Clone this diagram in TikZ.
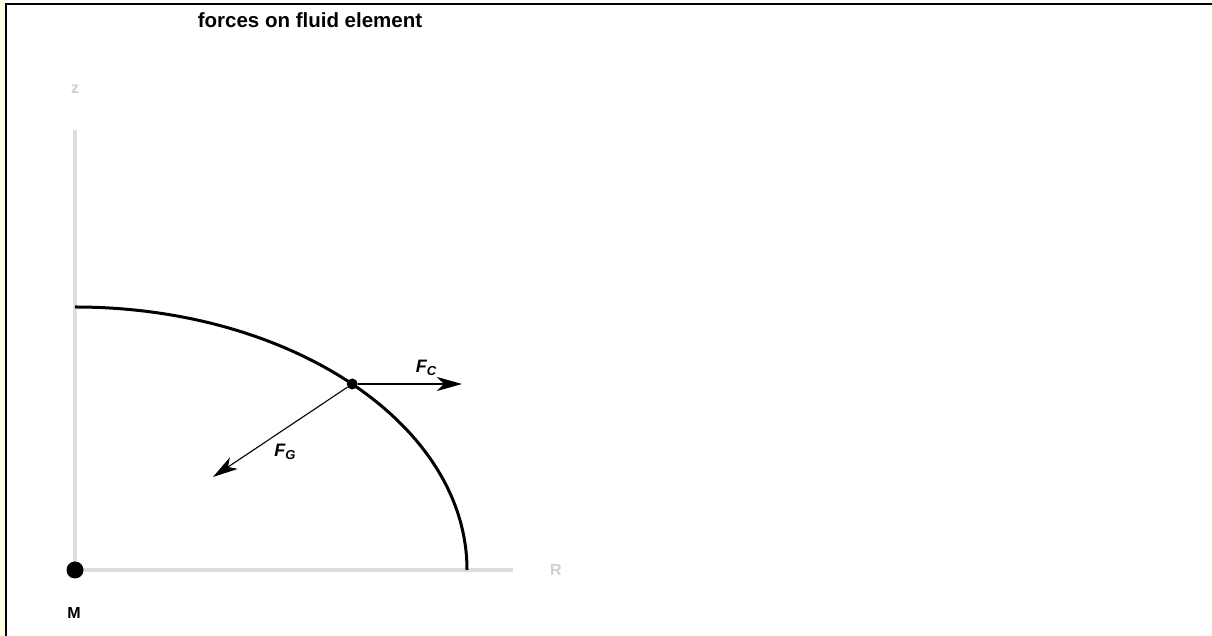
\documentclass[tikz,border=0pt]{standalone}
\usepackage{fontspec}
\setmainfont{Liberation Sans}
\usetikzlibrary{arrows.meta}
\definecolor{axisgray}{HTML}{DCDCDC}
\definecolor{labelgray}{HTML}{D0D0D0}
\definecolor{stripyellow}{HTML}{FFFFE6}
\begin{document}
\begin{tikzpicture}[x=1pt,y=1pt,
  axisline/.style={draw=axisgray,line width=3.2pt},
  curveline/.style={draw=black,line width=3pt},
  forcearrow/.style={draw=black,line width=1.1pt,-{Stealth[length=25pt,width=14pt,inset=7pt]}},
  dotnode/.style={circle,fill=black,inner sep=0pt},
  graylabel/.style={text=labelgray,font=\fontsize{16}{16}\selectfont\bfseries},
  blacklabel/.style={text=black,font=\fontsize{16}{16}\selectfont\bfseries},
  forcelabel/.style={text=black,font=\fontsize{18}{18}\selectfont\bfseries\itshape},
  titlelabel/.style={text=black,font=\fontsize{20.5}{20.5}\selectfont\bfseries}]
\useasboundingbox (0,0) rectangle (1212,636);
\fill[white] (0,0) rectangle (1212,636);
\fill[stripyellow] (0,0) rectangle (4.5,636);
\draw[line width=2pt] (6,0) -- (6,632) -- (1212,632);
% axes
\coordinate (O) at (75,66);
\coordinate (ztop) at (75,506);
\coordinate (rend) at (513,66);
\draw[axisline] (O) -- (ztop);
\draw[axisline] (O) -- (rend);
% boundary curve (quarter ellipse)
\draw[curveline] (75,329) arc[start angle=90,end angle=0,x radius=392pt,y radius=263pt];
% mass point and fluid element
\node[dotnode,minimum size=17pt] (M) at (O) {};
\node[dotnode,minimum size=11pt] (P) at (352.2,252) {};
% forces
\coordinate (FCend) at (462,252);
\coordinate (FGend) at (213,159);
\draw[forcearrow] (P) -- (FCend);
\draw[forcearrow] (P) -- (FGend);
% labels
\node[titlelabel] (title) at (310,616) {forces on fluid element};
\node[graylabel] (zlab) at (75,547) {z};
\node[graylabel] (Rlab) at (556,66) {R};
\node[blacklabel] (Mlab) at (74,23) {M};
\node[forcelabel] (FClab) at (426,268) {F\raisebox{-0.35ex}{\fontsize{13}{13}\selectfont C}};
\node[forcelabel] (FGlab) at (285,184) {F\raisebox{-0.35ex}{\fontsize{13}{13}\selectfont G}};
\end{tikzpicture}
\end{document}
